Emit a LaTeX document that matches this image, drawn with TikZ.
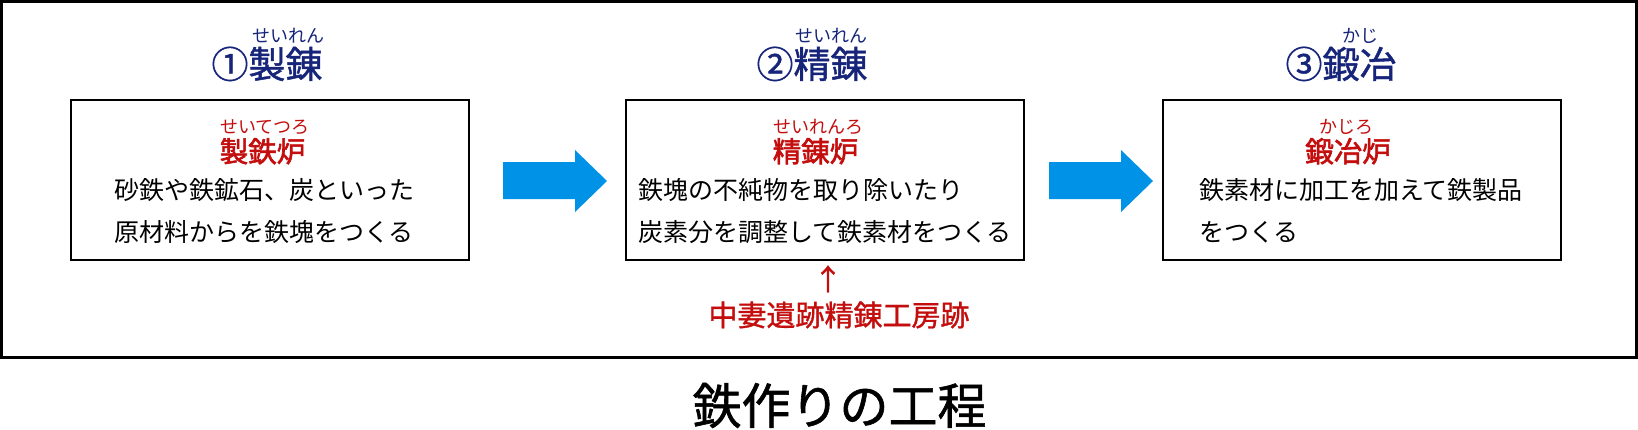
\documentclass[tikz,border=0pt]{standalone}
\usepackage{fontspec}
\setmainfont{Noto Sans CJK JP}
\newfontfamily\medfont[FakeBold=1.2]{Noto Sans CJK JP}
\newfontfamily\semifont[FakeBold=2.2]{Noto Sans CJK JP}
\definecolor{navy}{RGB}{22,36,122}
\definecolor{myred}{RGB}{196,14,14}
\definecolor{arrowblue}{RGB}{0,146,230}
\begin{document}
\begin{tikzpicture}[x=1pt,y=-1pt,
  headtxt/.style={font=\fontsize{37}{37}\medfont, text=navy, anchor=base, inner sep=0pt},
  headruby/.style={font=\fontsize{18}{18}\selectfont, text=navy, anchor=base, inner sep=0pt},
  redruby/.style={font=\fontsize{18}{18}\selectfont, text=myred, anchor=base, inner sep=0pt},
  redtitle/.style={font=\fontsize{28.5}{28.5}\semifont, text=myred, anchor=base, inner sep=0pt},
  bodytxt/.style={font=\fontsize{25}{25}\selectfont, anchor=base west, inner sep=0pt},
  stagebox/.style={draw, line width=2.7pt, minimum width=398pt, minimum height=160pt, anchor=north west, inner sep=0pt, outer sep=0pt},
  blockarrow/.style={fill=arrowblue},
  sitelabel/.style={font=\fontsize{29}{29}\medfont, text=myred, anchor=base, inner sep=0pt},
  maintitle/.style={font=\fontsize{49}{49}\medfont, anchor=base, inner sep=0pt}
]
\useasboundingbox (0,0) rectangle (1638,429);
\fill[white] (0,0) rectangle (1638,429);
% outer frame
\draw[line width=3pt] (1.5,1.5) rectangle (1636,357);

% headings
\node[headtxt] (h1) at (267,78) {①製錬};
\node[headruby] (r1) at (288,42) {せいれん};
\node[headtxt] (h2) at (812,78) {②精錬};
\node[headruby] (r2) at (831,42) {せいれん};
\node[headtxt] (h3) at (1341,78) {③鍛冶};
\node[headruby] (r3) at (1360,42) {かじ};

% boxes
\node[stagebox] (b1) at (71,100) {};
\node[stagebox] (b2) at (626,100) {};
\node[stagebox] (b3) at (1163,100) {};

% box 1
\node[redruby] (b1r) at (265,133) {せいてつろ};
\node[redtitle] (b1t) at (262.5,162) {製鉄炉};
\node[bodytxt] (b1l1) at (114,199.5) {砂鉄や鉄鉱石、炭といった};
\node[bodytxt] (b1l2) at (114,241) {原材料からを鉄塊をつくる};

% box 2
\node[redruby] (b2r) at (818,133) {せいれんろ};
\node[redtitle] (b2t) at (815.5,162) {精錬炉};
\node[bodytxt] (b2l1) at (638,199.5) {鉄塊の不純物を取り除いたり};
\node[bodytxt] (b2l2) at (638,241) {炭素分を調整して鉄素材をつくる};

% box 3
\node[redruby] (b3r) at (1346,133) {かじろ};
\node[redtitle] (b3t) at (1348,162) {鍛冶炉};
\node[bodytxt] (b3l1) at (1199,199.5) {鉄素材に加工を加えて鉄製品};
\node[bodytxt] (b3l2) at (1199,241) {をつくる};

% block arrows
\fill[blockarrow] (503,162) -- (575,162) -- (575,150) -- (607,181) -- (575,212) -- (575,199) -- (503,199) -- cycle;
\fill[blockarrow] (1049,162) -- (1121,162) -- (1121,150) -- (1153,181) -- (1121,212) -- (1121,199) -- (1049,199) -- cycle;

% site label
\node[sitelabel] (up) at (828,290) {↑};
\node[sitelabel] (site) at (839,326) {中妻遺跡精錬工房跡};

% title
\node[maintitle] (title) at (839.5,424) {鉄作りの工程};
\end{tikzpicture}
\end{document}
